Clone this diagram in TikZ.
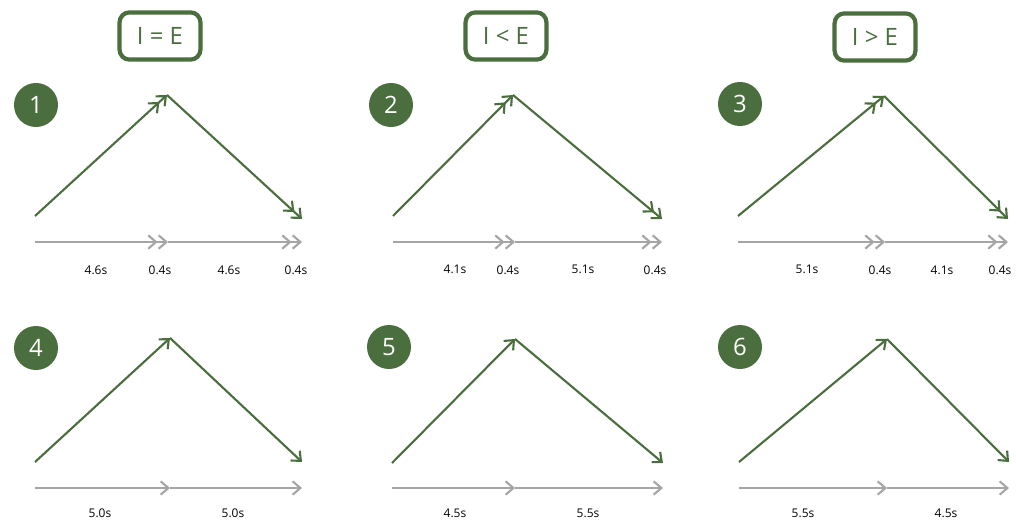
\documentclass[tikz,border=0pt]{standalone}
\usepackage{fontspec}
\setmainfont{Open Sans}
\usetikzlibrary{arrows.meta}
\definecolor{verdeosc}{RGB}{74,110,62}
\definecolor{grisclaro}{RGB}{165,165,165}
\begin{document}
\begin{tikzpicture}
  [x=0.025cm,y=-0.025cm,>={Straight Barb[length=5.5pt,width=9.5pt]},
   verde/.style={draw=verdeosc,line width=1.5pt},
   gris/.style={draw=grisclaro,line width=1.5pt},
   caja/.style={draw=verdeosc,line width=3pt,rounded corners=7pt,minimum width=2.02cm,minimum height=1.18cm,text=verdeosc,font=\fontsize{17}{19}\selectfont},
   num/.style={circle,fill=verdeosc,text=white,minimum size=1.1cm,inner sep=0pt,font=\fontsize{17}{19}\selectfont},
   etiq/.style={font=\fontsize{8.5}{10}\selectfont,inner sep=1pt}]
  \useasboundingbox (0,0) rectangle (1016,520);

  % Cajas de arriba
  \node[caja] (c1) at (160,36) {I = E};
  \node[caja] (c2) at (506,36) {I < E};
  \node[caja] (c3) at (875,37) {I > E};

  % Numeros
  \node[num] (n1) at (36,105) {1};
  \node[num] (n2) at (391,105) {2};
  \node[num] (n3) at (740,104) {3};
  \node[num] (n4) at (36,348) {4};
  \node[num] (n5) at (389,347) {5};
  \node[num] (n6) at (740,347) {6};

  % Puntos de las flechas verdes
  \coordinate (s1) at (35,216);  \coordinate (p1) at (167,95);  \coordinate (e1) at (302,219);
  \coordinate (s2) at (393,216); \coordinate (p2) at (513,95);  \coordinate (e2) at (662,219);
  \coordinate (s3) at (738,216); \coordinate (p3) at (884,96);  \coordinate (e3) at (1008,219);
  \coordinate (s4) at (35,462);  \coordinate (p4) at (170,338); \coordinate (e4) at (302,462);
  \coordinate (s5) at (392,463); \coordinate (p5) at (515,339); \coordinate (e5) at (663,463);
  \coordinate (s6) at (739,462); \coordinate (p6) at (887,339); \coordinate (e6) at (1009,462);

  % Puntos de las lineas grises
  \coordinate (a1) at (35,242);  \coordinate (m1) at (168,242); \coordinate (b1) at (302,242);
  \coordinate (a2) at (393,242); \coordinate (m2) at (515,242); \coordinate (b2) at (662,242);
  \coordinate (a3) at (738,242); \coordinate (m3) at (885,242); \coordinate (b3) at (1008,242);
  \coordinate (a4) at (35,488);  \coordinate (m4) at (170,488); \coordinate (b4) at (302,488);
  \coordinate (a5) at (392,488); \coordinate (m5) at (515,488); \coordinate (b5) at (663,488);
  \coordinate (a6) at (739,488); \coordinate (m6) at (887,488); \coordinate (b6) at (1009,488);

  % Fila de arriba (flechas dobles)
  \draw[verde,->>] (s1) -- (p1);
  \draw[verde,->>] (p1) -- (e1);
  \draw[verde,->>] (s2) -- (p2);
  \draw[verde,->>] (p2) -- (e2);
  \draw[verde,->>] (s3) -- (p3);
  \draw[verde,->>] (p3) -- (e3);
  \draw[gris,->>] (a1) -- (m1);
  \draw[gris,->>] (m1) -- (b1);
  \draw[gris,->>] (a2) -- (m2);
  \draw[gris,->>] (m2) -- (b2);
  \draw[gris,->>] (a3) -- (m3);
  \draw[gris,->>] (m3) -- (b3);

  % Fila de abajo
  \draw[verde,->] (s4) -- (p4);
  \draw[verde,->] (p4) -- (e4);
  \draw[verde,->] (s5) -- (p5);
  \draw[verde,->] (p5) -- (e5);
  \draw[verde,->] (s6) -- (p6);
  \draw[verde,->] (p6) -- (e6);
  \draw[gris,->] (a4) -- (m4);
  \draw[gris,->] (m4) -- (b4);
  \draw[gris,->] (a5) -- (m5);
  \draw[gris,->] (m5) -- (b5);
  \draw[gris,->] (a6) -- (m6);
  \draw[gris,->] (m6) -- (b6);

  % Tiempos
  \node[etiq] (t1a) at (96,270) {4.6s};
  \node[etiq] (t1b) at (160,270) {0.4s};
  \node[etiq] (t1c) at (229,270) {4.6s};
  \node[etiq] (t1d) at (296,270) {0.4s};
  \node[etiq] (t2a) at (455,269) {4.1s};
  \node[etiq] (t2b) at (508,270) {0.4s};
  \node[etiq] (t2c) at (583,269) {5.1s};
  \node[etiq] (t2d) at (655,270) {0.4s};
  \node[etiq] (t3a) at (807,269) {5.1s};
  \node[etiq] (t3b) at (880,270) {0.4s};
  \node[etiq] (t3c) at (942,270) {4.1s};
  \node[etiq] (t3d) at (1000,270) {0.4s};
  \node[etiq] (t4a) at (100,513) {5.0s};
  \node[etiq] (t4b) at (233,513) {5.0s};
  \node[etiq] (t5a) at (455,513) {4.5s};
  \node[etiq] (t5b) at (588,513) {5.5s};
  \node[etiq] (t6a) at (803,513) {5.5s};
  \node[etiq] (t6b) at (946,513) {4.5s};
\end{tikzpicture}
\end{document}
